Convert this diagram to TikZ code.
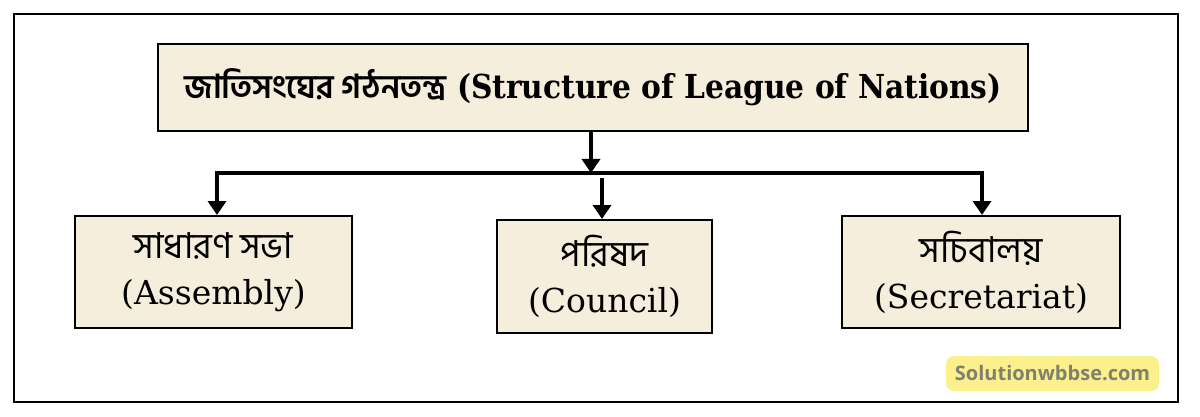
\documentclass[tikz,border=0pt]{standalone}
\usepackage{fontspec}
\setmainfont{DejaVu Serif}
\newfontfamily\bn[Script=Bengali]{Hind Siliguri}
\newfontfamily\bnlow[Script=Bengali,Scale=1.08]{Hind Siliguri}
\newfontfamily\condserif{DejaVu Serif Condensed}
\newfontfamily\wmfont{Open Sans}
\usetikzlibrary{arrows.meta}
\definecolor{boxfill}{HTML}{F6EEDD}
\definecolor{wmfill}{HTML}{FBF08C}
\definecolor{wmtext}{HTML}{808070}
\tikzset{
  box/.style={draw=black, line width=2pt, fill=boxfill, inner sep=0pt, align=center},
  lowtext/.style={font=\fontsize{33}{46}\selectfont},
  conn/.style={line width=4pt, -{Triangle[width=18pt,length=14pt]}},
  bar/.style={line width=4pt, line cap=rect},
}
\begin{document}
\begin{tikzpicture}[x=1pt,y=-1pt]
\useasboundingbox (0,0) rectangle (1200,417);
\fill[white] (0,0) rectangle (1200,417);
\draw[line width=2pt] (14,14) rectangle (1178,402);
\node[box, minimum width=870pt, minimum height=87pt,
      font=\condserif\bfseries\fontsize{33}{40}\selectfont] (T) at (593,87.5)
  {{\bn\bfseries জাতিসংঘের গঠনতন্ত্র} (Structure of League of Nations)};
\node[box, lowtext, minimum width=277pt, minimum height=112pt] (A) at (213.5,272)
  {{\bnlow সাধারণ সভা}\\(Assembly)};
\node[box, lowtext, minimum width=215pt, minimum height=113pt] (C) at (604.5,276.5)
  {{\bnlow পরিষদ}\\(Council)};
\node[box, lowtext, minimum width=278pt, minimum height=112pt] (S) at (981,272)
  {{\bnlow সচিবালয়}\\(Secretariat)};
\node[fill=wmfill, rounded corners=8pt, minimum width=213pt, minimum height=35pt,
      inner sep=0pt, text=wmtext, font=\wmfont\bfseries\fontsize{20}{24}\selectfont] (W) at (1052.5,373.5)
  {Solutionwbbse.com};
\coordinate (J) at (591,173);
\coordinate (L) at (217,173);
\coordinate (R) at (982,173);
\coordinate (M) at (602,178);
\draw[bar] (L) -- (R);
\draw[conn] (T.south -| J) -- (J);
\draw[conn] (L) -- (L |- A.north);
\draw[conn] (M) -- (M |- C.north);
\draw[conn] (R) -- (R |- S.north);
\end{tikzpicture}
\end{document}
